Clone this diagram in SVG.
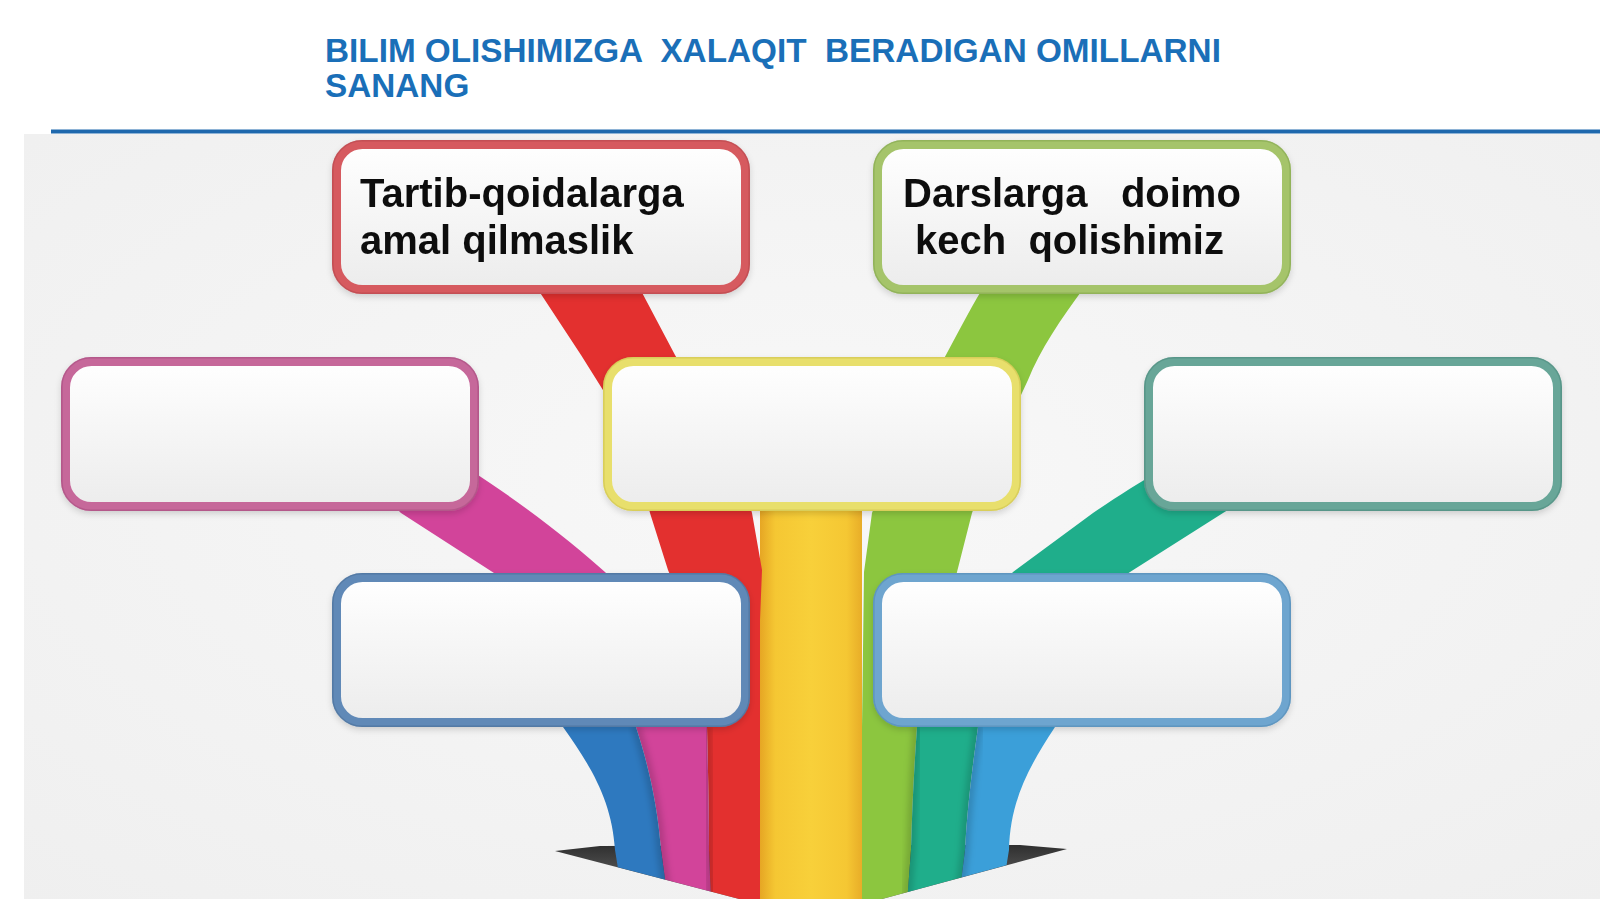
<svg xmlns="http://www.w3.org/2000/svg" width="1600" height="899" viewBox="0 0 1600 899">
<style>
.title{font-family:"Liberation Sans",Arial,sans-serif;font-weight:bold;font-size:33.3px;fill:#1a6fb8;white-space:pre}
.label{font-family:"Liberation Sans",Arial,sans-serif;font-weight:bold;font-size:40px;fill:#111111;white-space:pre}
.box{fill:url(#boxFill);stroke-width:9}
.edge{fill:none;stroke-width:1.6;stroke-opacity:0.6}
.shade{fill:none;stroke:#000;stroke-opacity:0.16;stroke-width:9;filter:url(#blur)}
</style>
<defs>
<linearGradient id="boxFill" x1="0" y1="0" x2="0" y2="1">
<stop offset="0" stop-color="#ffffff"/>
<stop offset="0.35" stop-color="#f8f8f8"/>
<stop offset="1" stop-color="#ececec"/>
</linearGradient>
<radialGradient id="panel" cx="0.5" cy="0.45" r="0.75">
<stop offset="0" stop-color="#f8f8f8"/>
<stop offset="1" stop-color="#efefef"/>
</radialGradient>
<linearGradient id="yellowG" gradientUnits="userSpaceOnUse" x1="760" y1="0" x2="862" y2="0">
<stop offset="0" stop-color="#e6a624"/>
<stop offset="0.15" stop-color="#f5c733"/>
<stop offset="0.5" stop-color="#f8d03a"/>
<stop offset="0.85" stop-color="#f5c733"/>
<stop offset="1" stop-color="#e8ad28"/>
</linearGradient>
<linearGradient id="wingG" x1="0" y1="0" x2="0" y2="1">
<stop offset="0" stop-color="#2f2f2f"/>
<stop offset="1" stop-color="#8d8d8d"/>
</linearGradient>
<clipPath id="arrowClip">
<path d="M0,0 H1600 V849 L1066,849 L812,918 L556,851 L0,851 Z"/>
</clipPath>
<filter id="blur" x="-20%" y="-20%" width="140%" height="140%">
<feGaussianBlur stdDeviation="3"/>
</filter>
<filter id="shadow" x="-5%" y="-10%" width="110%" height="125%">
<feDropShadow dx="0" dy="3" stdDeviation="3" flood-color="#000" flood-opacity="0.15"/>
</filter>
</defs>

<rect x="0" y="0" width="1600" height="899" fill="#ffffff"/>
<rect x="24" y="134" width="1576" height="765" fill="url(#panel)"/>
<line x1="51" y1="131.5" x2="1600" y2="131.5" stroke="#1e68ad" stroke-width="4"/>

<g id="title">
<text class="title" x="325" y="62">BILIM OLISHIMIZGA  XALAQIT  BERADIGAN OMILLARNI</text>
<text class="title" x="325" y="97">SANANG</text>
</g>

<g id="arrowhead">
<path d="M555,851 L600,846 L1020,845 L1067,849 L812,918 Z" fill="url(#wingG)"/>
</g>

<g id="connectors" clip-path="url(#arrowClip)">
<path id="rib-yellow" d="M760,490 L862,490 L862,930 L760,930 Z" fill="url(#yellowG)"/>
<path id="rib-red" fill="#e3302f" d="M535,285 L638,285 L675,355 L740,470 L752,513 L762,570 L760,620 L760,930 L712,930 L709,850 C709,810 708,770 707,727 C700,680 690,620 668,570 L650,513 L628,430 L581,355 L535,285 Z"/>
<path id="rib-green" fill="#8cc63f" d="M985,285 L1086,285 C1060,320 1040,350 1028,380 L1000,440 L972,513 L957,572 L930,680 L917,727 C914,770 912,810 911,850 L905,930 L862,930 L862,727 L864,572 L872,513 L900,440 L947,353 C962,325 975,300 985,285 Z"/>
<path id="rib-pink" fill="#d2449a" d="M370,482 L470,470 C525,505 575,545 605,572 C650,615 700,680 707,727 C708,770 709,810 709,850 L712,930 L672,930 L661,850 C658,810 650,770 636,727 C600,660 540,610 494,573 L401,513 Z"/>
<path id="rib-teal" fill="#1fae8b" d="M1165,468 L1260,490 L1223,513 L1130,572 C1060,620 1000,670 978,727 C972,770 967,810 965,850 L955,930 L905,930 L911,850 C912,810 914,770 917,727 C930,670 970,620 1013,572 L1093,513 C1115,498 1140,482 1165,468 Z"/>
<path id="rib-blue" fill="#2e79bf" d="M560,690 L630,690 L636,727 C650,770 658,810 661,850 L672,930 L628,930 L615,850 C612,800 590,765 563,727 Z"/>
<path id="rib-lightblue" fill="#3b9fd9" d="M985,690 L1060,690 L1055,727 C1030,765 1010,800 1009,850 L996,930 L955,930 L965,850 C967,810 972,770 978,727 Z"/>
<path class="shade" d="M636,727 C650,770 658,810 661,850 L672,930"/>
<path class="shade" d="M707,727 C708,770 709,810 709,850 L712,930"/>
<path class="shade" d="M760,500 L760,930"/>
<path class="shade" d="M862,500 L862,930"/>
<path class="shade" d="M917,727 C914,770 912,810 911,850 L905,930"/>
<path class="shade" d="M978,727 C972,770 967,810 965,850 L955,930"/>
</g>

<g id="node-red" filter="url(#shadow)">
<rect class="box" x="336.5" y="144.5" width="409" height="145" rx="26" stroke="#d65a5f"/>
<rect class="edge" x="332.8" y="140.8" width="416.4" height="152.4" rx="29" stroke="#b8474c"/>
<text class="label" x="360" y="207">Tartib-qoidalarga</text>
<text class="label" x="360" y="254">amal qilmaslik</text>
</g>

<g id="node-green" filter="url(#shadow)">
<rect class="box" x="877.5" y="144.5" width="409" height="145" rx="26" stroke="#a5c46b"/>
<rect class="edge" x="873.8" y="140.8" width="416.4" height="152.4" rx="29" stroke="#86a84f"/>
<text class="label" x="903" y="207">Darslarga   doimo</text>
<text class="label" x="915" y="254">kech  qolishimiz</text>
</g>

<g id="node-pink" filter="url(#shadow)">
<rect class="box" x="65.5" y="361.5" width="409" height="145" rx="26" stroke="#c6679a"/>
<rect class="edge" x="61.8" y="357.8" width="416.4" height="152.4" rx="29" stroke="#a84f80"/>
</g>

<g id="node-yellow" filter="url(#shadow)">
<rect class="box" x="607.5" y="361.5" width="409" height="145" rx="26" stroke="#e8df6c"/>
<rect class="edge" x="603.8" y="357.8" width="416.4" height="152.4" rx="29" stroke="#cfc34f"/>
</g>

<g id="node-teal" filter="url(#shadow)">
<rect class="box" x="1148.5" y="361.5" width="409" height="145" rx="26" stroke="#67a698"/>
<rect class="edge" x="1144.8" y="357.8" width="416.4" height="152.4" rx="29" stroke="#4f8c7e"/>
</g>

<g id="node-blue-left" filter="url(#shadow)">
<rect class="box" x="336.5" y="577.5" width="409" height="145" rx="26" stroke="#6189b7"/>
<rect class="edge" x="332.8" y="573.8" width="416.4" height="152.4" rx="29" stroke="#4a7099"/>
</g>

<g id="node-blue-right" filter="url(#shadow)">
<rect class="box" x="877.5" y="577.5" width="409" height="145" rx="26" stroke="#6ea5cf"/>
<rect class="edge" x="873.8" y="573.8" width="416.4" height="152.4" rx="29" stroke="#548cb6"/>
</g>
</svg>
